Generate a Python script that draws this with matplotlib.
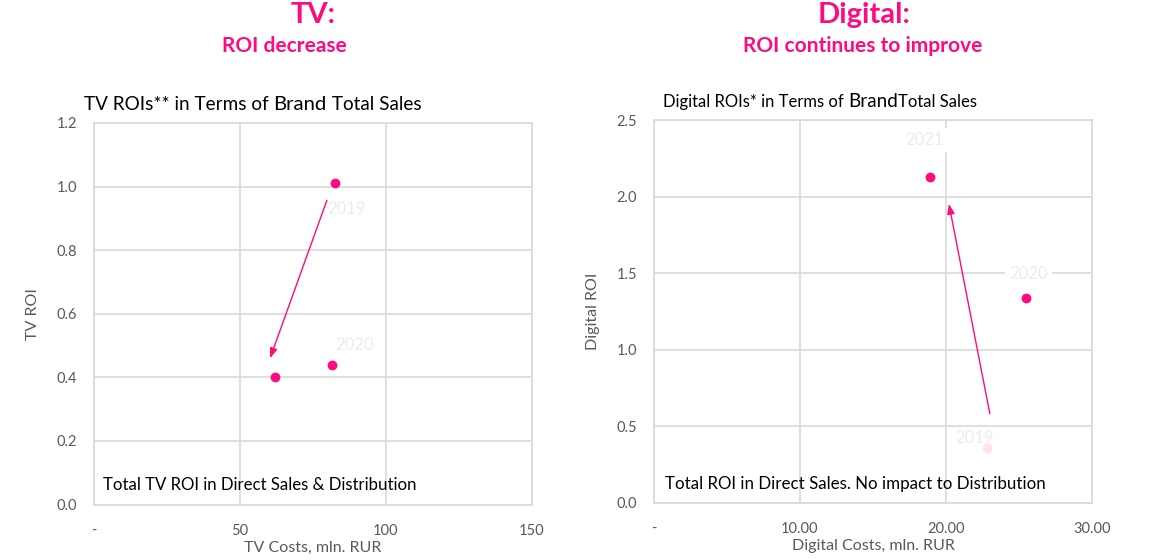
import matplotlib
matplotlib.use("Agg")
import matplotlib.pyplot as plt
from matplotlib.transforms import ScaledTranslation

plt.rcParams['font.family'] = ['Lato', 'DejaVu Sans']

# data
years = ["2019", "2020", "2021"]
tv_cost = [82.5, 81.4, 62.0]
tv_roi = [1.01, 0.44, 0.40]
digital_cost = [22.8, 25.5, 18.9]
digital_roi = [0.36, 1.34, 2.13]

tv_xticks = [0, 50, 100, 150]
tv_xticklabels = ["-", "50", "100", "150"]
tv_yticks = [0.0, 0.2, 0.4, 0.6, 0.8, 1.0, 1.2]
dg_xticks = [0, 10, 20, 30]
dg_xticklabels = ["-", "10.00", "20.00", "30.00"]
dg_yticks = [0.0, 0.5, 1.0, 1.5, 2.0, 2.5]

PINK = "#ff0a7f"
FAINT_PINK = "#fde3ee"
GRID = "#d9d9d9"
TICK = "#595959"
YEAR = "#ececec"

fig = plt.figure(figsize=(11.56, 5.60), dpi=100)
ax1 = fig.add_axes([0.0813, 0.0991, 0.3789, 0.6814])
ax2 = fig.add_axes([0.5657, 0.1023, 0.3789, 0.6830])


def off(ax, dx, dy):
    # offset in pixels from a data point
    return ax.transData + ScaledTranslation(dx / 100, dy / 100, fig.dpi_scale_trans)


def style(ax, xticks, xlabels, yticks, yfmt, xlabel, ylabel):
    ax.set_xlim(xticks[0], xticks[-1])
    ax.set_ylim(yticks[0], yticks[-1])
    ax.set_xticks(xticks)
    ax.set_xticklabels(xlabels)
    ax.set_yticks(yticks)
    ax.set_yticklabels([yfmt.format(v) for v in yticks])
    ax.grid(True, color=GRID, linewidth=1.2)
    ax.set_axisbelow(True)
    for s in ax.spines.values():
        s.set_color(GRID)
        s.set_linewidth(1.2)
    ax.tick_params(length=0, colors=TICK, labelsize=10.5)
    ax.tick_params(axis='x', pad=14)
    ax.tick_params(axis='y', pad=12)
    ax.set_xlabel(xlabel, color=TICK, fontsize=11.5, labelpad=2)
    ax.set_ylabel(ylabel, color=TICK, fontsize=11.5, labelpad=12)


def title_parts(x_px, y_px, parts):
    # write a title from pieces of different size, left to right
    r = fig.canvas.get_renderer()
    x = x_px
    for s, size in parts:
        t = fig.text(x / 1156, 1 - y_px / 560, s, fontsize=size,
                     color="black", va='baseline')
        x += t.get_window_extent(renderer=r).width


style(ax1, tv_xticks, tv_xticklabels, tv_yticks, "{:.1f}",
      "TV Costs, mln. RUR", "TV ROI")
style(ax2, dg_xticks, dg_xticklabels, dg_yticks, "{:.1f}",
      "Digital Costs, mln. RUR", "Digital ROI")

# TV chart
ax1.scatter(tv_cost, tv_roi, s=50, color=PINK, zorder=3, linewidths=0)
ax1.text(tv_cost[0], tv_roi[0], years[0], transform=off(ax1, 12, -26),
         ha='center', va='center', color=YEAR, fontsize=12)
ax1.text(tv_cost[1], tv_roi[1], years[1], transform=off(ax1, 23, 20),
         ha='center', va='center', color=YEAR, fontsize=12)
ax1.annotate("", xy=(tv_cost[2], tv_roi[2]), xycoords=off(ax1, -5, 19),
             xytext=(tv_cost[0], tv_roi[0]), textcoords=off(ax1, -8, -17),
             arrowprops=dict(arrowstyle="-|>,head_length=0.6,head_width=0.22",
                             color=PINK, lw=1.0, shrinkA=0, shrinkB=0))
ax1.text(0.02, 0.05, "Total TV ROI in Direct Sales & Distribution",
         transform=ax1.transAxes, fontsize=12.1, color="black", va='center')
title_parts(84, 110, [("TV ROIs** in Terms of ", 13.6), ("Brand", 14.6),
                      (" Total Sales", 13.6)])

# Digital chart
ax2.scatter(digital_cost[1:], digital_roi[1:], s=50, color=PINK, zorder=3, linewidths=0)
ax2.scatter(digital_cost[:1], digital_roi[:1], s=50, color=FAINT_PINK, zorder=3, linewidths=0)
ax2.text(digital_cost[0], digital_roi[0], years[0], transform=off(ax2, -12, 10),
         ha='center', va='center', color=YEAR, fontsize=12, zorder=4)
ax2.text(digital_cost[1], digital_roi[1], years[1], transform=off(ax2, 2, 24),
         ha='center', va='center', color=YEAR, fontsize=12, zorder=4,
         bbox=dict(facecolor='white', edgecolor='none', pad=3))
ax2.text(digital_cost[2], digital_roi[2], years[2], transform=off(ax2, -5, 37),
         ha='center', va='center', color=YEAR, fontsize=12, zorder=4,
         bbox=dict(facecolor='white', edgecolor='none', pad=3))
ax2.annotate("", xy=(digital_cost[2], digital_roi[2]), xycoords=off(ax2, 19, -27),
             xytext=(digital_cost[0], digital_roi[0]), textcoords=off(ax2, 3, 34),
             arrowprops=dict(arrowstyle="-|>,head_length=0.6,head_width=0.22",
                             color=PINK, lw=1.0, shrinkA=0, shrinkB=0))
ax2.text(0.025, 0.05, "Total ROI in Direct Sales. No impact to Distribution",
         transform=ax2.transAxes, fontsize=12.2, color="black", va='center')
title_parts(663, 107, [("Digital ROIs* in Terms of ", 12), ("Brand", 13.6),
                       ("Total Sales", 12)])

# headers
fig.text(313 / 1156, 1 - 15 / 560, "TV:", ha='center', va='center',
         fontsize=21, fontweight='bold', color=PINK)
fig.text(284 / 1156, 1 - 46 / 560, "ROI decrease", ha='center', va='center',
         fontsize=15, fontweight='bold', color=PINK)
fig.text(864 / 1156, 1 - 15 / 560, "Digital:", ha='center', va='center',
         fontsize=21, fontweight='bold', color=PINK)
fig.text(863 / 1156, 1 - 46 / 560, "ROI continues to improve", ha='center', va='center',
         fontsize=15, fontweight='bold', color=PINK)

fig.savefig("out.png", dpi=100, facecolor="white")
